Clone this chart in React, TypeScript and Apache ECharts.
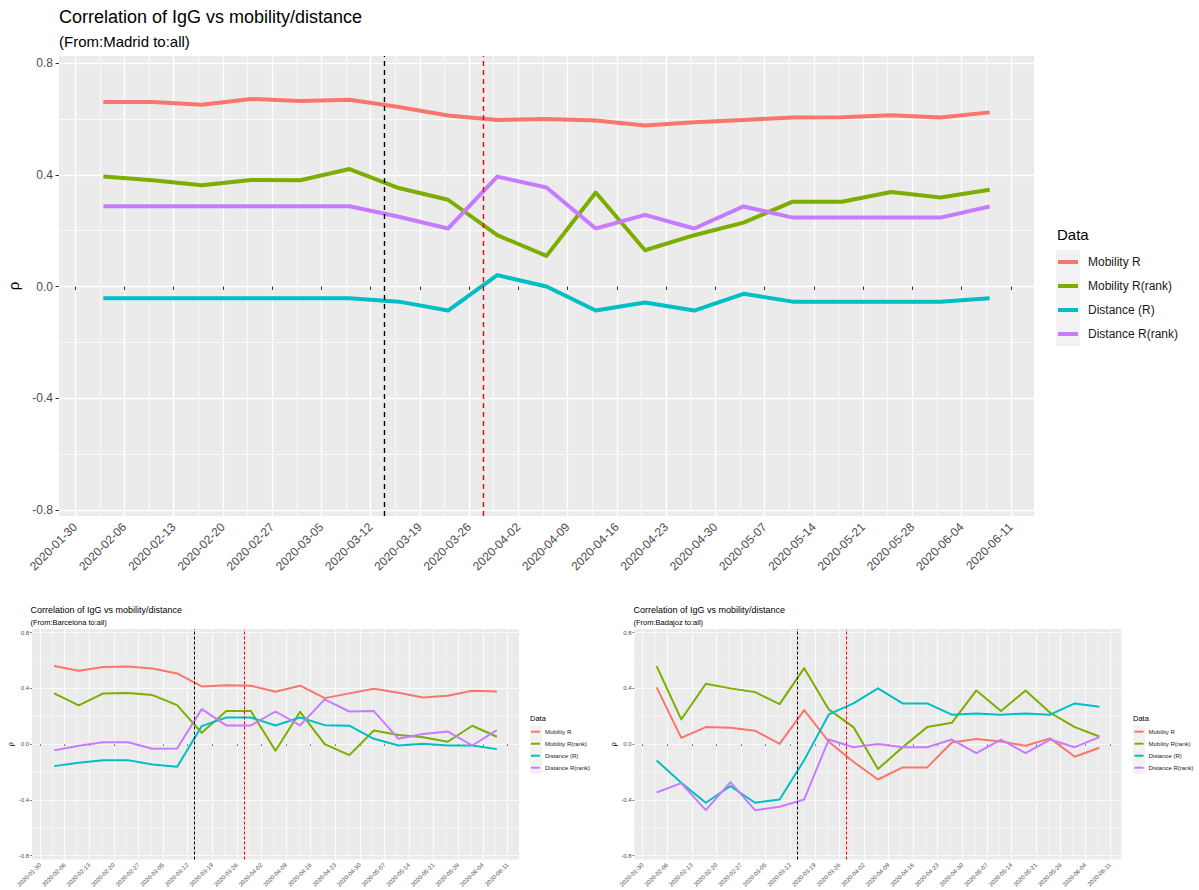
import React, { useEffect, useRef } from 'react';
import * as echarts from 'echarts';

// ---------- data ----------
const weekDates = [
  '2020-02-03', '2020-02-10', '2020-02-17', '2020-02-24', '2020-03-02', '2020-03-09', '2020-03-16',
  '2020-03-23', '2020-03-30', '2020-04-06', '2020-04-13', '2020-04-20', '2020-04-27', '2020-05-04',
  '2020-05-11', '2020-05-18', '2020-05-25', '2020-06-01', '2020-06-08',
];
const tickDates = [
  '2020-01-30', '2020-02-06', '2020-02-13', '2020-02-20', '2020-02-27', '2020-03-05', '2020-03-12',
  '2020-03-19', '2020-03-26', '2020-04-02', '2020-04-09', '2020-04-16', '2020-04-23', '2020-04-30',
  '2020-05-07', '2020-05-14', '2020-05-21', '2020-05-28', '2020-06-04', '2020-06-11',
];
const blackLineDate = '2020-03-14';
const redLineDate = '2020-03-28';
const yTicks = [-0.8, -0.4, 0, 0.4, 0.8];
const yTickLabels = ['-0.8', '-0.4', '0.0', '0.4', '0.8'];
const yMinorTicks = [-0.6, -0.2, 0.2, 0.6];
const seriesNames = ['Mobility R', 'Mobility R(rank)', 'Distance (R)', 'Distance R(rank)'];
const seriesColors = ['#F8766D', '#7CAE00', '#00BFC4', '#C77CFF'];
const chartTitle = 'Correlation of IgG vs mobility/distance';
const legendTitle = 'Data';
const yAxisTitle = 'ρ';

// Madrid
const madridMobilityR = [0.661, 0.661, 0.651, 0.672, 0.665, 0.669, 0.643, 0.613, 0.597, 0.600, 0.595, 0.577, 0.589, 0.597, 0.606, 0.607, 0.614, 0.606, 0.624];
const madridMobilityRank = [0.394, 0.381, 0.363, 0.382, 0.381, 0.421, 0.353, 0.311, 0.184, 0.110, 0.337, 0.130, 0.184, 0.229, 0.304, 0.304, 0.339, 0.319, 0.347];
const madridDistanceR = [-0.042, -0.042, -0.042, -0.042, -0.042, -0.042, -0.054, -0.086, 0.041, 0.000, -0.086, -0.057, -0.086, -0.026, -0.054, -0.054, -0.054, -0.054, -0.042];
const madridDistanceRank = [0.288, 0.288, 0.288, 0.288, 0.288, 0.288, 0.250, 0.208, 0.394, 0.355, 0.208, 0.257, 0.208, 0.287, 0.247, 0.247, 0.247, 0.247, 0.287];

// Barcelona
const barcelonaMobilityR = [0.560, 0.526, 0.553, 0.557, 0.543, 0.507, 0.414, 0.423, 0.419, 0.376, 0.419, 0.330, 0.364, 0.397, 0.368, 0.335, 0.347, 0.383, 0.378];
const barcelonaMobilityRank = [0.364, 0.278, 0.364, 0.366, 0.352, 0.280, 0.081, 0.237, 0.237, -0.048, 0.232, 0.000, -0.079, 0.098, 0.065, 0.050, 0.017, 0.132, 0.053];
const barcelonaDistanceR = [-0.158, -0.134, -0.115, -0.115, -0.146, -0.163, 0.129, 0.191, 0.191, 0.134, 0.191, 0.136, 0.132, 0.038, -0.010, 0.002, -0.010, -0.010, -0.036];
const barcelonaDistanceRank = [-0.045, -0.012, 0.014, 0.014, -0.033, -0.031, 0.251, 0.134, 0.134, 0.234, 0.134, 0.321, 0.234, 0.237, 0.038, 0.072, 0.091, -0.010, 0.100];

// Badajoz
const badajozMobilityR = [0.407, 0.045, 0.122, 0.117, 0.096, 0.002, 0.244, 0.017, -0.127, -0.254, -0.167, -0.167, 0.012, 0.036, 0.019, -0.012, 0.041, -0.091, -0.026];
const badajozMobilityRank = [0.560, 0.177, 0.433, 0.400, 0.373, 0.287, 0.545, 0.249, 0.122, -0.179, -0.022, 0.122, 0.153, 0.385, 0.237, 0.385, 0.225, 0.122, 0.055];
const badajozDistanceR = [-0.117, -0.278, -0.421, -0.301, -0.421, -0.397, -0.115, 0.213, 0.292, 0.400, 0.292, 0.292, 0.211, 0.220, 0.211, 0.220, 0.211, 0.292, 0.268];
const badajozDistanceRank = [-0.347, -0.280, -0.474, -0.273, -0.474, -0.450, -0.397, 0.033, -0.022, 0.000, -0.022, -0.022, 0.033, -0.065, 0.033, -0.065, 0.033, -0.022, 0.050];

// ---------- layout ----------
const FONT = "'Liberation Sans', Arial, Helvetica, sans-serif";
const DAY = 86400000;
const toDay = (s: string) => Date.parse(s + 'T00:00:00Z') / DAY;

const panels = [
  {
    origin: 'Madrid',
    values: [madridMobilityR, madridMobilityRank, madridDistanceR, madridDistanceRank],
    L: {
      titleLeft: 59, titleTop: 7.5, titleSize: 18, subTop: 33.5, subSize: 15,
      gridLeft: 59, gridTop: 56, gridW: 975, gridH: 460, yMin: -0.822, yMax: 0.826,
      lineW: 4, majW: 1.4, minW: 0.7, tickLen: 3.5, tickW: 1, tickFont: 12, xMargin: 9, yMargin: 6,
      vW: 1.4, vDash: [5, 4], rhoSize: 15, rhoGap: 33,
      dataLeft: 1057, dataTop: 227, dataSize: 15,
      keyLeft: 1056, keyTop: 250, keySize: 24, itemW: 20, itemH: 4, legendLeft: 1058, legendFont: 12, legendPad: 5,
    },
  },
  {
    origin: 'Barcelona',
    values: [barcelonaMobilityR, barcelonaMobilityRank, barcelonaDistanceR, barcelonaDistanceRank],
    L: {
      titleLeft: 30.5, titleTop: 605.5, titleSize: 9, subTop: 618, subSize: 7.5,
      gridLeft: 32, gridTop: 629, gridW: 487, gridH: 230.5, yMin: -0.828, yMax: 0.826,
      lineW: 2, majW: 0.8, minW: 0.4, tickLen: 2, tickW: 0.6, tickFont: 6, xMargin: 4.5, yMargin: 3,
      vW: 1, vDash: [3, 2], rhoSize: 7.5, rhoGap: 17,
      dataLeft: 530, dataTop: 714.5, dataSize: 7.5,
      keyLeft: 530, keyTop: 725.7, keySize: 12, itemW: 9, itemH: 2, legendLeft: 531, legendFont: 6, legendPad: 0,
    },
  },
  {
    origin: 'Badajoz',
    values: [badajozMobilityR, badajozMobilityRank, badajozDistanceR, badajozDistanceRank],
    L: {
      titleLeft: 633.5, titleTop: 605.5, titleSize: 9, subTop: 618, subSize: 7.5,
      gridLeft: 634.5, gridTop: 629, gridW: 487, gridH: 230.5, yMin: -0.828, yMax: 0.826,
      lineW: 2, majW: 0.8, minW: 0.4, tickLen: 2, tickW: 0.6, tickFont: 6, xMargin: 4.5, yMargin: 3,
      vW: 1, vDash: [3, 2], rhoSize: 7.5, rhoGap: 17,
      dataLeft: 1133, dataTop: 714.5, dataSize: 7.5,
      keyLeft: 1133, keyTop: 725.7, keySize: 12, itemW: 9, itemH: 2, legendLeft: 1134.5, legendFont: 6, legendPad: 0,
    },
  },
];

function buildOption() {
  const weekDays = weekDates.map(toDay);
  const tickDays = tickDates.map(toDay);
  const minorDays = tickDays.slice(0, -1).map((d, i) => (d + tickDays[i + 1]) / 2);
  const span = weekDays[weekDays.length - 1] - weekDays[0];
  const xMin = weekDays[0] - 0.05 * span;
  const xMax = weekDays[weekDays.length - 1] + 0.05 * span;
  const labelOf = (v: number) => {
    const i = tickDays.findIndex((d) => Math.abs(d - v) < 1e-6);
    return i >= 0 ? tickDates[i] : '';
  };
  const yLabelOf = (v: number) => {
    const i = yTicks.findIndex((d) => Math.abs(d - v) < 1e-6);
    return i >= 0 ? yTickLabels[i] : '';
  };

  const title: any[] = [];
  const grid: any[] = [];
  const xAxis: any[] = [];
  const yAxis: any[] = [];
  const series: any[] = [];
  const legend: any[] = [];
  const graphic: any[] = [];

  panels.forEach((p, k) => {
    const L = p.L;
    title.push({
      text: chartTitle, left: L.titleLeft, top: L.titleTop, padding: 0,
      textStyle: { fontFamily: FONT, fontSize: L.titleSize, fontWeight: 'normal', color: '#000' },
    });
    title.push({
      text: `(From:${p.origin} to:all)`, left: L.titleLeft, top: L.subTop, padding: 0,
      textStyle: { fontFamily: FONT, fontSize: L.subSize, fontWeight: 'normal', color: '#000' },
    });
    title.push({
      text: legendTitle, left: L.dataLeft, top: L.dataTop, padding: 0,
      textStyle: { fontFamily: FONT, fontSize: L.dataSize, fontWeight: 'normal', color: '#000' },
    });
    grid.push({
      left: L.gridLeft, top: L.gridTop, width: L.gridW, height: L.gridH,
      show: true, backgroundColor: '#EBEBEB', borderWidth: 0, containLabel: false, outerBoundsMode: 'none',
    });
    // major x axis
    xAxis.push({
      type: 'value', gridIndex: k, min: xMin, max: xMax, position: 'bottom',
      axisLine: { show: false },
      axisTick: { show: true, length: L.tickLen, customValues: tickDays, lineStyle: { color: '#333333', width: L.tickW } },
      axisLabel: {
        show: true, customValues: tickDays, rotate: 45, margin: L.xMargin, formatter: (v: number) => labelOf(v),
        fontFamily: FONT, fontSize: L.tickFont, color: '#4D4D4D', hideOverlap: false,
      },
      splitLine: { show: true, lineStyle: { color: '#FFFFFF', width: L.majW } },
    });
    // minor x axis
    xAxis.push({
      type: 'value', gridIndex: k, min: xMin, max: xMax, position: 'top',
      axisLine: { show: false },
      axisTick: { show: false, customValues: minorDays },
      axisLabel: { show: false, customValues: minorDays },
      splitLine: { show: true, lineStyle: { color: '#FFFFFF', width: L.minW } },
    });
    yAxis.push({
      type: 'value', gridIndex: k, min: L.yMin, max: L.yMax, position: 'left',
      name: yAxisTitle, nameLocation: 'middle', nameRotate: 90, nameGap: L.rhoGap,
      nameTextStyle: { fontFamily: FONT, fontSize: L.rhoSize, color: '#000' },
      axisLine: { show: false },
      axisTick: { show: true, length: L.tickLen, customValues: yTicks, lineStyle: { color: '#333333', width: L.tickW } },
      axisLabel: {
        show: true, customValues: yTicks, margin: L.yMargin, formatter: (v: number) => yLabelOf(v),
        fontFamily: FONT, fontSize: L.tickFont, color: '#4D4D4D',
      },
      splitLine: { show: true, lineStyle: { color: '#FFFFFF', width: L.majW } },
    });
    yAxis.push({
      type: 'value', gridIndex: k, min: L.yMin, max: L.yMax, position: 'right',
      axisLine: { show: false },
      axisTick: { show: false, customValues: yMinorTicks },
      axisLabel: { show: false, customValues: yMinorTicks },
      splitLine: { show: true, lineStyle: { color: '#FFFFFF', width: L.minW } },
    });

    p.values.forEach((vals, j) => {
      const s: any = {
        type: 'line', name: seriesNames[j], xAxisIndex: 2 * k, yAxisIndex: 2 * k,
        data: weekDays.map((d, i) => [d, vals[i]]),
        symbol: 'none', showSymbol: false, silent: true, z: 2 + j,
        lineStyle: { color: seriesColors[j], width: L.lineW, join: 'round', cap: 'butt' },
        itemStyle: { color: seriesColors[j] },
      };
      if (j === 3) {
        s.markLine = {
          silent: true, symbol: ['none', 'none'], label: { show: false }, z: 10,
          data: [
            { xAxis: toDay(blackLineDate), lineStyle: { color: '#000000', type: L.vDash, width: L.vW } },
            { xAxis: toDay(redLineDate), lineStyle: { color: '#FF0000', type: L.vDash, width: L.vW } },
          ],
        };
      }
      series.push(s);
    });

    graphic.push({
      type: 'rect', z: 0, silent: true,
      shape: { x: L.keyLeft, y: L.keyTop, width: L.keySize, height: L.keySize * 4 },
      style: { fill: '#F2F2F2' },
    });
    legend.push({
      data: seriesNames, left: L.legendLeft, top: L.keyTop, orient: 'vertical', padding: 0, itemGap: 0,
      itemWidth: L.itemW, itemHeight: L.itemH, icon: 'rect', selectedMode: false, z: 5,
      textStyle: {
        fontFamily: FONT, fontSize: L.legendFont, color: '#1A1A1A', lineHeight: L.keySize,
        padding: [0, 0, 0, L.legendPad],
      },
    });
  });

  return { animation: false, backgroundColor: '#FFFFFF', title, grid, xAxis, yAxis, series, legend, graphic, tooltip: { show: false } };
}

export default function App() {
  const ref = useRef<HTMLDivElement>(null);
  useEffect(() => {
    if (!ref.current) return;
    const chart = echarts.init(ref.current, null, { renderer: 'svg' });
    chart.setOption(buildOption() as any);
    return () => chart.dispose();
  }, []);
  return (
    <div
      ref={ref}
      style={{ position: 'absolute', left: 0, top: 0, width: 1199, height: 890, background: '#fff' }}
    />
  );
}
